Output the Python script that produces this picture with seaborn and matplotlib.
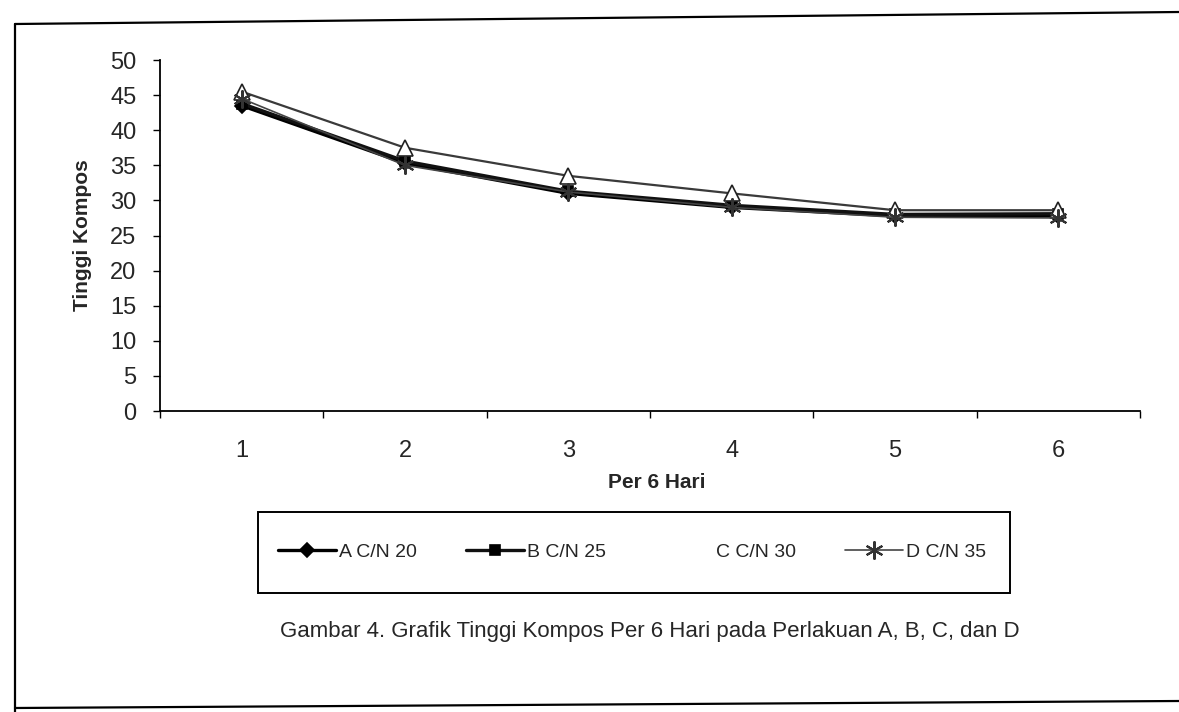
import matplotlib
matplotlib.use("Agg")
import matplotlib.pyplot as plt
import seaborn as sns
import pandas as pd
from matplotlib.lines import Line2D
from matplotlib.patches import Rectangle

days = [1, 2, 3, 4, 5, 6]
series_names = ["A C/N 20", "B C/N 25", "C C/N 30", "D C/N 35"]
vals_A = [43.5, 35.3, 31.0, 29.0, 27.8, 27.8]
vals_B = [43.8, 35.6, 31.3, 29.3, 28.0, 28.1]
vals_C = [45.5, 37.5, 33.5, 31.0, 28.6, 28.6]
vals_D = [44.5, 35.0, 31.2, 29.0, 27.6, 27.5]
y_ticks = list(range(0, 55, 5))
x_label = "Per 6 Hari"
y_label = "Tinggi Kompos"
caption = "Gambar 4. Grafik Tinggi Kompos Per 6 Hari pada Perlakuan A, B, C, dan D"

sns.set_theme(style="white")
plt.rcParams["font.family"] = ["Liberation Sans", "DejaVu Sans"]

df = pd.DataFrame({
    "day": days * 4,
    "val": vals_A + vals_B + vals_C + vals_D,
    "series": sum([[n] * len(days) for n in series_names], []),
})

W, H = 1179, 712
fig = plt.figure(figsize=(W / 100, H / 100), dpi=100)
ax = fig.add_axes([160 / W, 1 - 411 / H, 980 / W, 351 / H])

styles = {
    "A C/N 20": dict(color="black", marker="D", markersize=7, mfc="black", mec="black", lw=2.4),
    "B C/N 25": dict(color="#111111", marker="s", markersize=7, mfc="black", mec="black", lw=2.4),
    "C C/N 30": dict(color="#3a3a3a", marker="^", markersize=11, mfc="white", mec="#222222", lw=1.6),
    "D C/N 35": dict(color="#444444", marker=(6, 2, 0), markersize=13, mfc="none", mec="#333333", lw=1.2, mew=1.5),
}
for name in series_names:
    st = styles[name]
    sub = df[df["series"] == name]
    sns.lineplot(data=sub, x="day", y="val", ax=ax, label=name,
                 color=st["color"], marker=st["marker"], markersize=st["markersize"],
                 markerfacecolor=st["mfc"], markeredgecolor=st["mec"],
                 linewidth=st["lw"], markeredgewidth=st.get("mew", 1.2), legend=False)

ax.set_xlim(0.5, 6.5)
ax.set_ylim(0, 50)
ax.set_yticks(y_ticks)
ax.set_xticks(days)
ax.set_xticks([0.5 + i for i in range(7)], minor=True)
ax.tick_params(axis="x", which="major", length=0, pad=21, labelsize=17)
ax.tick_params(axis="x", which="minor", length=5, direction="out", width=1, color="black", bottom=True)
ax.tick_params(axis="y", which="major", length=5, direction="out", width=1, color="black",
               labelsize=17, left=True, pad=12)
for s in ["top", "right"]:
    ax.spines[s].set_visible(False)
for s in ["left", "bottom"]:
    ax.spines[s].set_color("black")
    ax.spines[s].set_linewidth(1.3)
ax.set_xlabel(x_label, fontsize=15, fontweight="bold")
ax.set_ylabel(y_label, fontsize=15, fontweight="bold")
ax.xaxis.set_label_coords((657 - 160) / 980, (411 - 473) / 351)
ax.yaxis.set_label_coords((82 - 160) / 980, 0.5)
ax.yaxis.label.set_va("center")
ax.grid(False)

handles, labels = ax.get_legend_handles_labels()
leg = fig.legend(handles, labels, loc="center", bbox_to_anchor=(632 / W, 1 - 552 / H),
                 ncol=4, frameon=False, fontsize=14,
                 handlelength=3.0, handletextpad=0.15, columnspacing=2.5)
leg.legend_handles[2].set_visible(False)
fig.add_artist(Rectangle((258 / W, 1 - 593 / H), 752 / W, 81 / H, transform=fig.transFigure,
                         fill=False, edgecolor="black", linewidth=1.4))

fig.text(650 / W, 1 - 632 / H, caption, ha="center", va="center", fontsize=16)

# outer frame of the page
frame_kw = dict(color="black", lw=1.6, transform=fig.transFigure)
fig.add_artist(Line2D([15 / W, 1.0], [1 - 24 / H, 1 - 12 / H], **frame_kw))
fig.add_artist(Line2D([15 / W, 15 / W], [1 - 24 / H, 0.0], **frame_kw))
fig.add_artist(Line2D([15 / W, 1.0], [1 - 708 / H, 1 - 701 / H], **frame_kw))

fig.savefig("out.png", dpi=100)
